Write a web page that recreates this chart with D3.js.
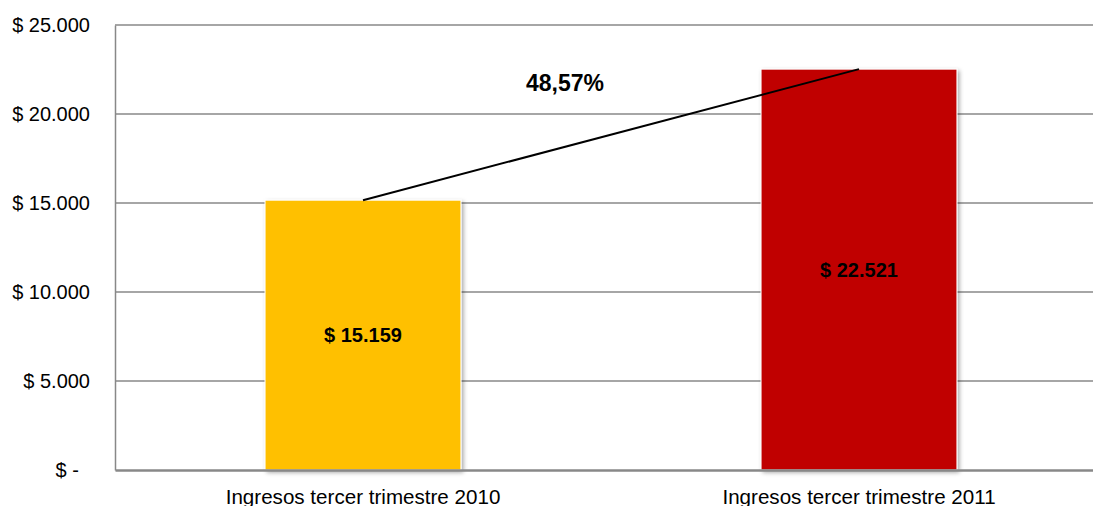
<!DOCTYPE html>
<html>
<head>
<meta charset="utf-8">
<script src="https://cdn.jsdelivr.net/npm/d3@7"></script>
<style>
  html, body { margin: 0; padding: 0; background: #fff; }
  svg { display: block; font-family: "Liberation Sans", Arial, sans-serif; }
</style>
</head>
<body>
<svg id="chart" width="1093" height="506"></svg>
<script>
const categories = ["Ingresos tercer trimestre 2010", "Ingresos tercer trimestre 2011"];
const values = [15159, 22521];
const barColors = ["#FFC000", "#C00000"];
const yTicks = [0, 5000, 10000, 15000, 20000, 25000];
const yTickLabels = ["$ -  ", "$ 5.000", "$ 10.000", "$ 15.000", "$ 20.000", "$ 25.000"];
const valueLabels = ["$ 15.159", "$ 22.521"];
const growthLabel = "48,57%";

const svg = d3.select("#chart");
const mLeft = 115, mRight = 1107, mTop = 25, mBottom = 470;

const x = d3.scaleBand().domain(categories).range([mLeft, mRight]).paddingInner(0.605).paddingOuter(0.3025);
const y = d3.scaleLinear().domain([0, 25000]).range([mBottom, mTop]);

const defs = svg.append("defs");
const f = defs.append("filter").attr("id", "shadow").attr("x", "-10%").attr("y", "-10%").attr("width", "130%").attr("height", "130%");
f.append("feDropShadow").attr("dx", 2).attr("dy", 2).attr("stdDeviation", 2).attr("flood-color", "#000").attr("flood-opacity", 0.35);

// gridlines
svg.append("g").selectAll("line").data(yTicks.filter(d => d > 0)).join("line")
  .attr("x1", mLeft).attr("x2", mRight)
  .attr("y1", d => y(d)).attr("y2", d => y(d))
  .attr("stroke", "#888").attr("stroke-width", 1.5);

// y axis
const yAxis = d3.axisLeft(y).tickValues(yTicks).tickSize(0).tickPadding(25)
  .tickFormat((d, i) => yTickLabels[i]);
const gy = svg.append("g").attr("transform", `translate(${mLeft},0)`).call(yAxis);
gy.select(".domain").attr("stroke", "#888").attr("stroke-width", 1.5);
gy.selectAll("text").attr("font-size", 20).attr("fill", "#000")
  .style("white-space", "pre").attr("font-family", "Liberation Sans, Arial, sans-serif");

// bars
svg.append("g").selectAll("rect").data(values).join("rect")
  .attr("x", (d, i) => x(categories[i]))
  .attr("y", d => y(d))
  .attr("width", x.bandwidth())
  .attr("height", d => mBottom - y(d))
  .attr("fill", (d, i) => barColors[i])
  .attr("stroke", "#fff").attr("stroke-width", 1)
  .attr("filter", "url(#shadow)");

// x axis
const xAxis = d3.axisBottom(x).tickSize(0).tickPadding(19);
const gx = svg.append("g").attr("transform", `translate(0,${mBottom})`).call(xAxis);
gx.select(".domain").attr("stroke", "#888").attr("stroke-width", 2.5);
gx.selectAll("text").attr("font-size", 20.6).attr("fill", "#000")
  .attr("font-family", "Liberation Sans, Arial, sans-serif");

// value labels
svg.append("g").selectAll("text").data(values).join("text")
  .attr("x", (d, i) => x(categories[i]) + x.bandwidth() / 2)
  .attr("y", d => (y(d) + mBottom) / 2)
  .attr("dy", "0.36em")
  .attr("text-anchor", "middle")
  .attr("font-size", 20).attr("font-weight", "bold").attr("fill", "#000")
  .text((d, i) => valueLabels[i]);

// connecting line
const pts = values.map((d, i) => [x(categories[i]) + x.bandwidth() / 2, y(d)]);
svg.append("path").attr("d", d3.line()(pts))
  .attr("stroke", "#000").attr("stroke-width", 2).attr("fill", "none");

// growth label
svg.append("text")
  .attr("x", (pts[0][0] + pts[1][0]) / 2 - 46)
  .attr("y", y(21300))
  .attr("text-anchor", "middle")
  .attr("font-size", 23).attr("font-weight", "bold").attr("fill", "#000")
  .text(growthLabel);
</script>
</body>
</html>
